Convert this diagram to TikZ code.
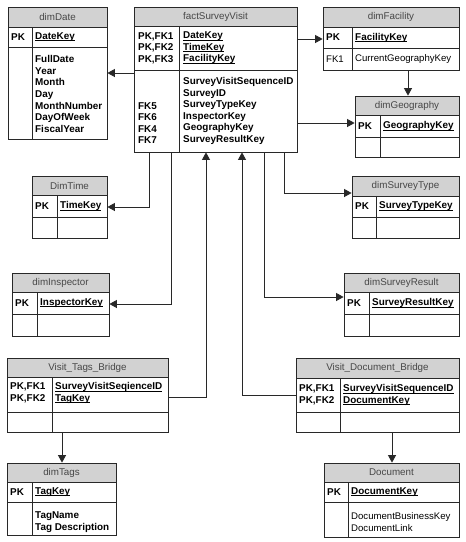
\documentclass[tikz,border=0pt]{standalone}
\usepackage{fontspec}
\setmainfont{Liberation Sans}
\newcommand{\ukey}[1]{\setbox0\hbox{#1}\rlap{\rule[-1.7pt]{\wd0}{0.7pt}}\box0}
\usetikzlibrary{arrows.meta,fit}
\definecolor{hdrgray}{RGB}{210,210,210}
\definecolor{lncol}{RGB}{40,40,40}
\newcommand{\erbox}[9]{%
  \fill[hdrgray] (#2,#3) rectangle (#4,#5);
  \draw[tline] (#2,#5) -- (#4,#5) (#2,#6) -- (#4,#6) (#8,#5) -- (#8,#7);
  \node[tline, draw, inner sep=0pt, fit={(#2,#3) (#4,#7)}] (#1) {};
  \node[ttl] (#1-title) at ({(#2+#4)/2},{(#3+#5)/2}) {#9};
}
\begin{document}
\begin{tikzpicture}[x=1pt,y=-1pt,
  tline/.style={draw=lncol, line width=0.8pt},
  ttl/.style={inner sep=0pt, text=black!72, font=\fontsize{9.8}{11.6}\selectfont},
  cell/.style={inner sep=0pt, anchor=west, align=left, font=\fontsize{9.9}{11.6}\selectfont\bfseries},
  cellr/.style={inner sep=0pt, anchor=west, align=left, font=\fontsize{9.6}{11.2}\selectfont},
  fk/.style={draw=lncol, line width=0.8pt, -{Triangle[length=7.5pt,width=8pt]}}]
\fill[white] (0,0) rectangle (466,542);
\useasboundingbox (0,0) rectangle (466,542);

% dimDate
\erbox{dimDate}{8}{7}{107}{27}{47}{139}{32}{dimDate}
\node[cell] (dimDate-pk) at (11,37) {PK};
\node[cell] (dimDate-k) at (35,37) {\ukey{DateKey}};
\node[cell] (dimDate-a) at (35,94) {FullDate\\Year\\Month\\Day\\MonthNumber\\DayOfWeek\\FiscalYear};

% factSurveyVisit
\erbox{fact}{134}{7}{297}{26}{70}{152}{179}{factSurveyVisit}
\node[cell] (fact-pk) at (138,48) {PK,FK1\\PK,FK2\\PK,FK3};
\node[cell] (fact-k) at (183,48) {\ukey{DateKey}\\\ukey{TimeKey}\\\ukey{FacilityKey}};
\node[cell] (fact-fl) at (138,123) {FK5\\FK6\\FK4\\FK7};
\node[cell] (fact-a) at (183,111) {SurveyVisitSequenceID\\SurveyID\\SurveyTypeKey\\InspectorKey\\GeographyKey\\SurveyResultKey};

% dimFacility
\erbox{dimFacility}{323}{7}{459}{27}{48}{70}{352}{dimFacility}
\node[cell] (dimFacility-pk) at (326,37.5) {PK};
\node[cell] (dimFacility-k) at (355,37.5) {\ukey{FacilityKey}};
\node[cellr] (dimFacility-fk) at (326,59) {FK1};
\node[cellr] (dimFacility-a) at (355,59) {CurrentGeographyKey};

% dimGeography
\erbox{dimGeography}{355}{96}{459}{115}{137}{157}{380}{dimGeography}
\node[cell] (dimGeography-pk) at (358,126) {PK};
\node[cell] (dimGeography-k) at (383,126) {\ukey{GeographyKey}};

% DimTime
\erbox{DimTime}{32}{176}{107}{195}{217}{238}{57}{DimTime}
\node[cell] (DimTime-pk) at (35,206) {PK};
\node[cell] (DimTime-k) at (60,206) {\ukey{TimeKey}};

% dimInspector
\erbox{dimInspector}{12}{273}{109}{292}{314}{336}{37}{dimInspector}
\node[cell] (dimInspector-pk) at (15,303) {PK};
\node[cell] (dimInspector-k) at (40,303) {\ukey{InspectorKey}};

% dimSurveyType
\erbox{dimSurveyType}{352}{176}{459}{196}{217}{238}{376}{dimSurveyType}
\node[cell] (dimSurveyType-pk) at (355,206.5) {PK};
\node[cell] (dimSurveyType-k) at (379,206.5) {\ukey{SurveyTypeKey}};

% dimSurveyResult
\erbox{dimSurveyResult}{344}{273}{459}{292}{314}{336}{369}{dimSurveyResult}
\node[cell] (dimSurveyResult-pk) at (347,303) {PK};
\node[cell] (dimSurveyResult-k) at (372,303) {\ukey{SurveyResultKey}};

% Visit_Tags_Bridge
\erbox{vtb}{7}{358}{168}{377}{412}{432}{52}{Visit\_Tags\_Bridge}
\node[cell] (vtb-pk) at (10,393) {PK,FK1\\PK,FK2};
\node[cell] (vtb-k) at (55,393) {\ukey{SurveyVisitSeqienceID}\\\ukey{TagKey}};

% dimTags
\erbox{dimTags}{7}{463}{116}{482}{502}{535}{32}{dimTags}
\node[cell] (dimTags-pk) at (10,492) {PK};
\node[cell] (dimTags-k) at (35,492) {\ukey{TagKey}};
\node[cell] (dimTags-a) at (35,522) {TagName\\Tag Description};

% Visit_Document_Bridge
\erbox{vdb}{296}{358}{459}{378}{412}{432}{340}{Visit\_Document\_Bridge}
\node[cell] (vdb-pk) at (299,395) {PK,FK1\\PK,FK2};
\node[cell] (vdb-k) at (343,395) {\ukey{SurveyVisitSequenceID}\\\ukey{DocumentKey}};

% Document
\erbox{Document}{324}{463}{459}{482}{502}{537}{348}{Document}
\node[cell] (Document-pk) at (327,492) {PK};
\node[cell] (Document-k) at (351,492) {\ukey{DocumentKey}};
\node[cellr] (Document-a) at (351,522) {DocumentBusinessKey\\DocumentLink};

% connectors
\draw[fk] (fact.west |- 0,73) -- (dimDate.east |- 0,73);
\draw[fk] (fact.east |- 0,39) -- (dimFacility.west |- 0,39);
\draw[fk] (fact.east |- 0,123) -- (dimGeography.west |- 0,123);
\draw[fk] (dimFacility.south -| 408,0) -- (dimGeography.north -| 408,0);
\draw[fk] (fact.south -| 149,0) |- (DimTime.east |- 0,207);
\draw[fk] (fact.south -| 171,0) |- (dimInspector.east |- 0,304);
\draw[fk] (fact.south -| 284,0) |- (dimSurveyType.west |- 0,193);
\draw[fk] (fact.south -| 264,0) |- (dimSurveyResult.west |- 0,297);
\draw[fk] (vtb.east |- 0,397) -| (fact.south -| 206,0);
\draw[fk] (vdb.west |- 0,395) -| (fact.south -| 242,0);
\draw[fk] (vtb.south -| 62,0) -- (dimTags.north -| 62,0);
\draw[fk] (vdb.south -| 392,0) -- (Document.north -| 392,0);
\end{tikzpicture}
\end{document}
